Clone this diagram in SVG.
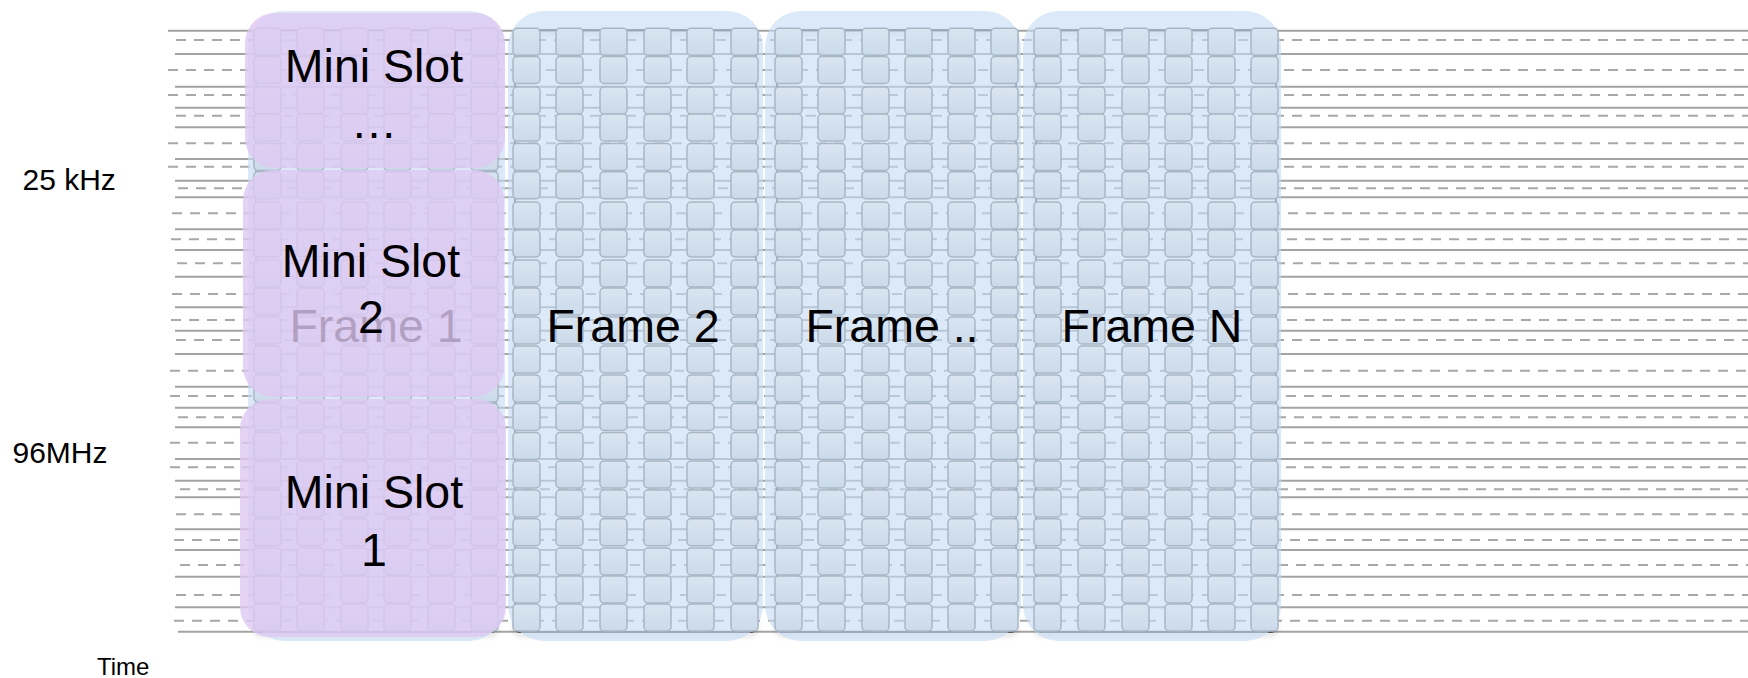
<svg xmlns="http://www.w3.org/2000/svg" xmlns:xlink="http://www.w3.org/1999/xlink" width="1748" height="678" viewBox="0 0 1748 678">
<style>
  .solid { stroke:#a3a3a3; stroke-width:2; fill:none; }
  .dash { stroke:#a8a8a8; stroke-width:2; stroke-dasharray:10 8; fill:none; }
  .border { fill:none; stroke:#3a3a3a; stroke-width:1.5; }
  .frame { fill:#c5dcf3; fill-opacity:0.62; }
  .cell { fill:url(#cellGrad); stroke:#a9b7c5; stroke-width:1.5; }
  .mini { fill:#dec8f2; fill-opacity:0.8; }
  .big { font-family:"Liberation Sans", Arial, sans-serif; font-size:46.5px; fill:#000; text-anchor:middle; }
  .axis { font-family:"Liberation Sans", Arial, sans-serif; font-size:30px; fill:#000; }
</style>
<defs>
  <linearGradient id="cellGrad" x1="0" y1="0" x2="0" y2="1">
    <stop offset="0" stop-color="#d9e5f1"/>
    <stop offset="1" stop-color="#cbdaea"/>
  </linearGradient>
  <filter id="shadow" x="-5%" y="-5%" width="110%" height="110%">
    <feDropShadow dx="0" dy="3" stdDeviation="2.5" flood-color="#000" flood-opacity="0.3"/>
  </filter>
  <g id="col">
    <rect class="cell" x="0" y="28.3" width="27" height="27" rx="4"/>
    <rect class="cell" x="0" y="56.5" width="27" height="27" rx="4"/>
    <rect class="cell" x="0" y="87" width="27" height="27" rx="4"/>
    <rect class="cell" x="0" y="114" width="27" height="27" rx="4"/>
    <rect class="cell" x="0" y="143.5" width="27" height="27" rx="4"/>
    <rect class="cell" x="0" y="171.7" width="27" height="27" rx="4"/>
    <rect class="cell" x="0" y="202" width="27" height="27" rx="4"/>
    <rect class="cell" x="0" y="230" width="27" height="27" rx="4"/>
    <rect class="cell" x="0" y="260" width="27" height="27" rx="4"/>
    <rect class="cell" x="0" y="288" width="27" height="27" rx="4"/>
    <rect class="cell" x="0" y="317" width="27" height="27" rx="4"/>
    <rect class="cell" x="0" y="346" width="27" height="27" rx="4"/>
    <rect class="cell" x="0" y="375" width="27" height="27" rx="4"/>
    <rect class="cell" x="0" y="403.5" width="27" height="27" rx="4"/>
    <rect class="cell" x="0" y="432.6" width="27" height="27" rx="4"/>
    <rect class="cell" x="0" y="461" width="27" height="27" rx="4"/>
    <rect class="cell" x="0" y="490" width="27" height="27" rx="4"/>
    <rect class="cell" x="0" y="518.7" width="27" height="27" rx="4"/>
    <rect class="cell" x="0" y="548" width="27" height="27" rx="4"/>
    <rect class="cell" x="0" y="576" width="27" height="27" rx="4"/>
    <rect class="cell" x="0" y="604" width="27" height="27" rx="4"/>
  </g>
</defs>

<rect x="0" y="0" width="1748" height="678" fill="#ffffff"/>

<!-- background grid lines -->
<g id="grid-lines">
  <line class="solid" x1="168" y1="30.7" x2="1748" y2="30.7"/>
  <line class="solid" x1="175" y1="54" x2="1748" y2="54"/>
  <line class="solid" x1="175" y1="86.7" x2="1748" y2="86.7"/>
  <line class="solid" x1="175" y1="107.7" x2="1748" y2="107.7"/>
  <line class="solid" x1="175" y1="127.3" x2="1748" y2="127.3"/>
  <line class="solid" x1="175" y1="159" x2="1748" y2="159"/>
  <line class="solid" x1="175" y1="180.7" x2="1748" y2="180.7"/>
  <line class="solid" x1="175" y1="197.3" x2="1748" y2="197.3"/>
  <line class="solid" x1="175" y1="229.3" x2="1748" y2="229.3"/>
  <line class="solid" x1="175" y1="250" x2="1748" y2="250"/>
  <line class="solid" x1="175" y1="276.7" x2="1748" y2="276.7"/>
  <line class="solid" x1="175" y1="307.3" x2="1748" y2="307.3"/>
  <line class="solid" x1="175" y1="330.7" x2="1748" y2="330.7"/>
  <line class="solid" x1="175" y1="354" x2="1748" y2="354"/>
  <line class="solid" x1="175" y1="386.7" x2="1748" y2="386.7"/>
  <line class="solid" x1="175" y1="407.7" x2="1748" y2="407.7"/>
  <line class="solid" x1="175" y1="427.3" x2="1748" y2="427.3"/>
  <line class="solid" x1="175" y1="459" x2="1748" y2="459"/>
  <line class="solid" x1="175" y1="480.7" x2="1748" y2="480.7"/>
  <line class="solid" x1="175" y1="497.3" x2="1748" y2="497.3"/>
  <line class="solid" x1="175" y1="529.3" x2="1748" y2="529.3"/>
  <line class="solid" x1="175" y1="550" x2="1748" y2="550"/>
  <line class="solid" x1="175" y1="576.7" x2="1748" y2="576.7"/>
  <line class="solid" x1="175" y1="607.3" x2="1748" y2="607.3"/>
  <line class="solid" x1="178" y1="631.7" x2="1748" y2="631.7"/>
  <line class="dash" x1="176" y1="40" x2="1748" y2="40"/>
  <line class="dash" x1="168" y1="70" x2="1748" y2="70"/>
  <line class="dash" x1="168" y1="95" x2="1748" y2="95"/>
  <line class="dash" x1="176" y1="115.7" x2="1748" y2="115.7"/>
  <line class="dash" x1="168" y1="143.3" x2="1748" y2="143.3"/>
  <line class="dash" x1="168" y1="166.7" x2="1748" y2="166.7"/>
  <line class="dash" x1="178" y1="188.3" x2="1748" y2="188.3"/>
  <line class="dash" x1="172" y1="213.3" x2="1748" y2="213.3"/>
  <line class="dash" x1="171" y1="239.3" x2="1748" y2="239.3"/>
  <line class="dash" x1="177" y1="263.3" x2="1748" y2="263.3"/>
  <line class="dash" x1="172" y1="294" x2="1748" y2="294"/>
  <line class="dash" x1="171" y1="320" x2="1748" y2="320"/>
  <line class="dash" x1="176" y1="340" x2="1748" y2="340"/>
  <line class="dash" x1="170" y1="370.7" x2="1748" y2="370.7"/>
  <line class="dash" x1="170" y1="396" x2="1748" y2="396"/>
  <line class="dash" x1="178" y1="417.3" x2="1748" y2="417.3"/>
  <line class="dash" x1="170" y1="442.7" x2="1748" y2="442.7"/>
  <line class="dash" x1="170" y1="467.3" x2="1748" y2="467.3"/>
  <line class="dash" x1="180" y1="489.3" x2="1748" y2="489.3"/>
  <line class="dash" x1="176" y1="514.3" x2="1748" y2="514.3"/>
  <line class="dash" x1="174" y1="540" x2="1748" y2="540"/>
  <line class="dash" x1="180" y1="565" x2="1748" y2="565"/>
  <line class="dash" x1="176" y1="595" x2="1748" y2="595"/>
  <line class="dash" x1="174" y1="620.7" x2="1748" y2="620.7"/>
</g>

<!-- Frame 1 -->
<g id="frame-1">
  <rect class="border" x="256" y="30" width="240" height="602" rx="4" filter="url(#shadow)"/>
  <rect class="frame" x="248" y="11" width="257" height="630" rx="36"/>
  <use xlink:href="#col" x="254"/>
  <use xlink:href="#col" x="297"/>
  <use xlink:href="#col" x="341"/>
  <use xlink:href="#col" x="384"/>
  <use xlink:href="#col" x="428"/>
  <use xlink:href="#col" x="471"/>
  <text class="big" x="376" y="341.7">Frame 1</text>
</g>

<!-- Frame 2 -->
<g id="frame-2">
  <rect class="border" x="515" y="30" width="241" height="602" rx="4" filter="url(#shadow)"/>
  <rect class="frame" x="508" y="11" width="255" height="630" rx="36"/>
  <use xlink:href="#col" x="513"/>
  <use xlink:href="#col" x="556"/>
  <use xlink:href="#col" x="600"/>
  <use xlink:href="#col" x="644"/>
  <use xlink:href="#col" x="687"/>
  <use xlink:href="#col" x="731"/>
  <text class="big" x="633" y="341.7">Frame 2</text>
</g>

<!-- Frame .. -->
<g id="frame-dots">
  <rect class="border" x="777" y="30" width="239" height="602" rx="4" filter="url(#shadow)"/>
  <rect class="frame" x="765" y="11" width="256" height="630" rx="36"/>
  <use xlink:href="#col" x="775"/>
  <use xlink:href="#col" x="818"/>
  <use xlink:href="#col" x="862"/>
  <use xlink:href="#col" x="905"/>
  <use xlink:href="#col" x="948"/>
  <use xlink:href="#col" x="991"/>
  <text class="big" x="892" y="341.7">Frame ..</text>
</g>

<!-- Frame N -->
<g id="frame-n">
  <rect class="border" x="1036" y="30" width="240" height="602" rx="4" filter="url(#shadow)"/>
  <rect class="frame" x="1023" y="11" width="258" height="630" rx="36"/>
  <use xlink:href="#col" x="1034"/>
  <use xlink:href="#col" x="1078"/>
  <use xlink:href="#col" x="1122"/>
  <use xlink:href="#col" x="1165"/>
  <use xlink:href="#col" x="1208"/>
  <use xlink:href="#col" x="1251"/>
  <text class="big" x="1152" y="341.7">Frame N</text>
</g>

<!-- Mini slots -->
<g id="mini-slot-dots">
  <rect class="mini" x="245" y="13" width="260" height="155" rx="30"/>
  <text class="big" x="374" y="81.7">Mini Slot</text>
  <text class="big" x="374" y="138">…</text>
</g>
<g id="mini-slot-2">
  <rect class="mini" x="243" y="170" width="261" height="227" rx="30"/>
  <text class="big" x="371" y="276.7">Mini Slot</text>
  <text class="big" x="371" y="333.3">2</text>
</g>
<g id="mini-slot-1">
  <rect class="mini" x="240" y="399" width="266" height="238" rx="30"/>
  <text class="big" x="374" y="508.3">Mini Slot</text>
  <text class="big" x="374" y="565.5">1</text>
</g>

<!-- axis labels -->
<g id="labels">
  <text class="axis" x="22.5" y="190">25 kHz</text>
  <text class="axis" x="12.5" y="463">96MHz</text>
  <text class="axis" x="97" y="675" style="font-size:24px">Time</text>
</g>
</svg>
